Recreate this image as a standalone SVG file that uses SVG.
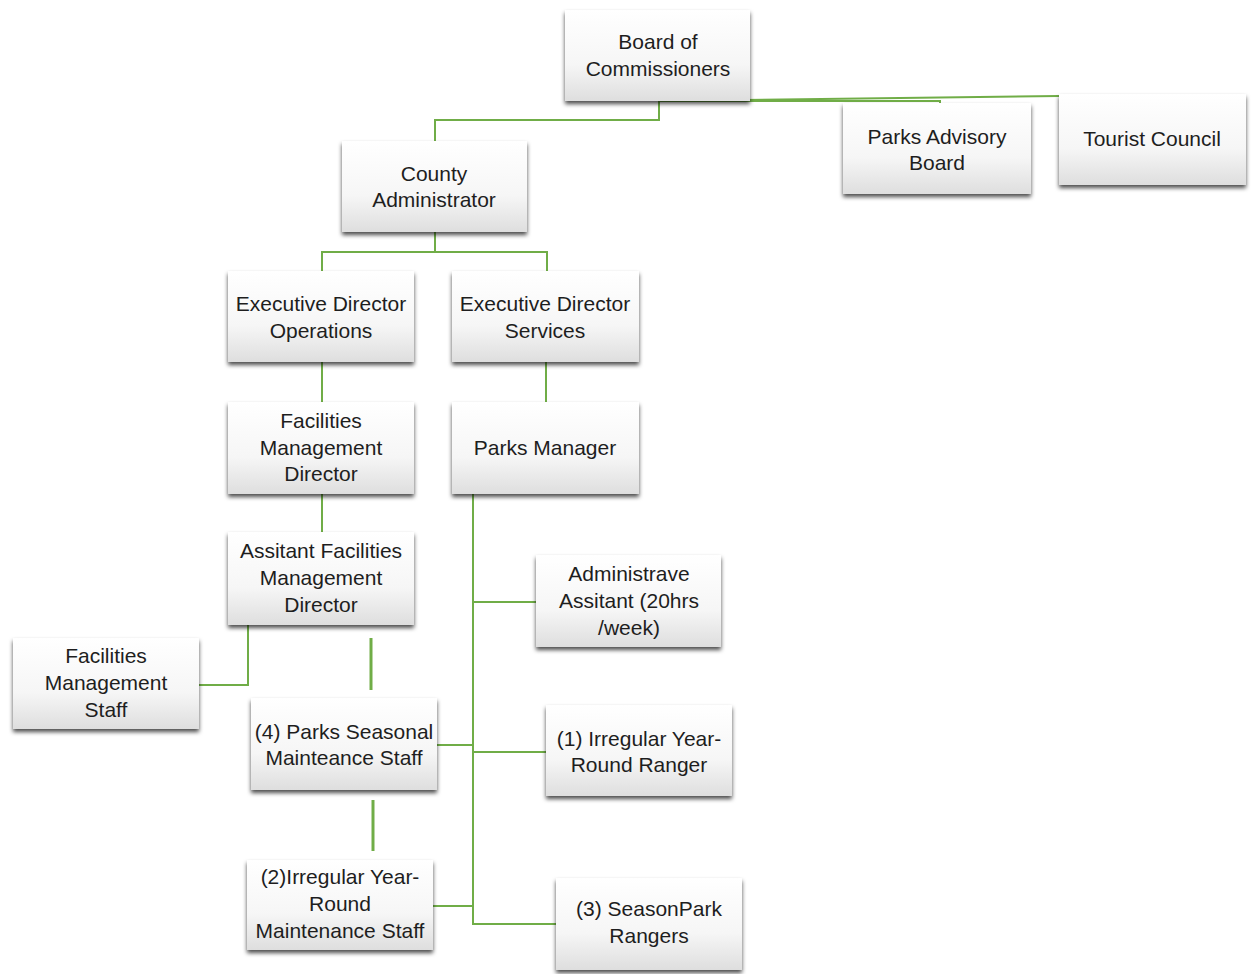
<svg xmlns="http://www.w3.org/2000/svg" width="1251" height="974" viewBox="0 0 1251 974">
<defs>
<linearGradient id="g" x1="0" y1="0" x2="0" y2="1">
<stop offset="0" stop-color="#ffffff"/>
<stop offset="0.6" stop-color="#f6f6f6"/>
<stop offset="1" stop-color="#dedede"/>
</linearGradient>
<filter id="sh" x="-10%" y="-10%" width="120%" height="130%">
<feDropShadow dx="0" dy="3" stdDeviation="2" flood-color="#000" flood-opacity="0.7"/>
</filter>
</defs>
<style>
.box{fill:url(#g);filter:url(#sh);}
.t{font-family:"Liberation Sans",Arial,sans-serif;font-size:21px;fill:#1e1e1e;text-anchor:middle;}
.c{fill:none;stroke:#70ad47;stroke-width:2;}
.s{fill:none;stroke:#70ad47;stroke-width:3;}
</style>
<rect width="1251" height="974" fill="#ffffff"/>
<g id="connectors">
<polyline class="c" points="659,101 659,120 435,120 435,141"/>
<polyline class="c" points="659,101 940,101 940,103"/>
<line class="c" x1="659" y1="101" x2="1059" y2="96"/>
<polyline class="c" points="435,232 435,252 322,252 322,271"/>
<polyline class="c" points="435,252 547,252 547,271"/>
<line class="c" x1="322" y1="362" x2="322" y2="402"/>
<line class="c" x1="546" y1="362" x2="546" y2="402"/>
<line class="c" x1="322" y1="494" x2="322" y2="532"/>
<polyline class="c" points="248,625 248,685 199,685"/>
<line class="s" x1="371" y1="638" x2="371" y2="690"/>
<line class="s" x1="373" y1="800" x2="373" y2="851"/>
<polyline class="c" points="473,494 473,924 556,924"/>
<line class="c" x1="473" y1="602" x2="536" y2="602"/>
<line class="c" x1="473" y1="752" x2="546" y2="752"/>
<line class="c" x1="437" y1="745" x2="473" y2="745"/>
<line class="c" x1="433" y1="906" x2="473" y2="906"/>
</g>
<g id="board"><rect class="box" x="565" y="10" width="185" height="91"/><text class="t" x="658" y="49">Board of</text><text class="t" x="658" y="76">Commissioners</text></g>
<g id="county"><rect class="box" x="342" y="141" width="185" height="91"/><text class="t" x="434" y="181">County</text><text class="t" x="434" y="207">Administrator</text></g>
<g id="parks-advisory"><rect class="box" x="843" y="103" width="188" height="91"/><text class="t" x="937" y="144">Parks Advisory</text><text class="t" x="937" y="170">Board</text></g>
<g id="tourist"><rect class="box" x="1059" y="94" width="187" height="91"/><text class="t" x="1152" y="146">Tourist Council</text></g>
<g id="exec-ops"><rect class="box" x="228" y="271" width="186" height="91"/><text class="t" x="321" y="311">Executive Director</text><text class="t" x="321" y="338">Operations</text></g>
<g id="exec-svc"><rect class="box" x="452" y="271" width="187" height="91"/><text class="t" x="545" y="311">Executive Director</text><text class="t" x="545" y="338">Services</text></g>
<g id="fmd"><rect class="box" x="228" y="402" width="186" height="92"/><text class="t" x="321" y="428">Facilities</text><text class="t" x="321" y="455">Management</text><text class="t" x="321" y="481">Director</text></g>
<g id="parks-manager"><rect class="box" x="452" y="402" width="187" height="92"/><text class="t" x="545" y="455">Parks Manager</text></g>
<g id="asst-fmd"><rect class="box" x="228" y="532" width="186" height="93"/><text class="t" x="321" y="558">Assitant Facilities</text><text class="t" x="321" y="585">Management</text><text class="t" x="321" y="612">Director</text></g>
<g id="fms"><rect class="box" x="13" y="638" width="186" height="91"/><text class="t" x="106" y="663">Facilities</text><text class="t" x="106" y="690">Management</text><text class="t" x="106" y="717">Staff</text></g>
<g id="admin"><rect class="box" x="536" y="555" width="185" height="92"/><text class="t" x="629" y="581">Administrave</text><text class="t" x="629" y="608">Assitant (20hrs</text><text class="t" x="629" y="635">/week)</text></g>
<g id="seasonal-maint"><rect class="box" x="251" y="698" width="186" height="92"/><text class="t" x="344" y="739">(4) Parks Seasonal</text><text class="t" x="344" y="765">Mainteance Staff</text></g>
<g id="ranger"><rect class="box" x="546" y="705" width="186" height="91"/><text class="t" x="639" y="746">(1) Irregular Year-</text><text class="t" x="639" y="772">Round Ranger</text></g>
<g id="irregular-maint"><rect class="box" x="247" y="860" width="186" height="90"/><text class="t" x="340" y="884">(2)Irregular Year-</text><text class="t" x="340" y="911">Round</text><text class="t" x="340" y="938">Maintenance Staff</text></g>
<g id="season-rangers"><rect class="box" x="556" y="878" width="186" height="92"/><text class="t" x="649" y="916">(3) SeasonPark</text><text class="t" x="649" y="943">Rangers</text></g>
</svg>
